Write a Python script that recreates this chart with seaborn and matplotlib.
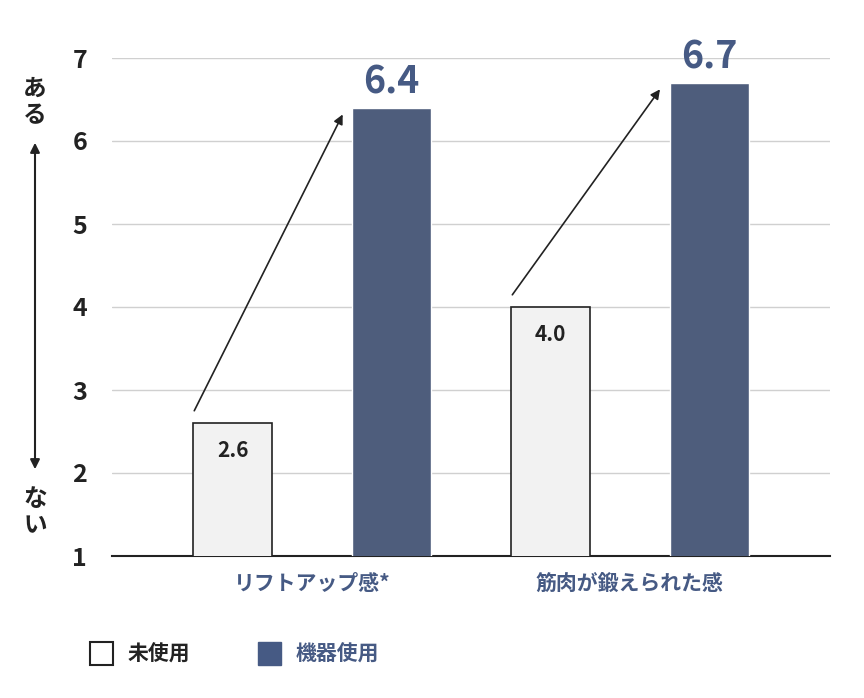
import matplotlib
matplotlib.use('Agg')
import matplotlib.pyplot as plt
import seaborn as sns
import pandas as pd
from matplotlib.patches import Rectangle

categories = ['リフトアップ感*', '筋肉が鍛えられた感']
groups = ['未使用', '機器使用']
before = [2.6, 4.0]
after = [6.4, 6.7]

blue = '#465a84'
light = '#f2f2f2'
dark = '#222222'

df = pd.DataFrame({
    'cat': categories * 2,
    'grp': [groups[0]] * 2 + [groups[1]] * 2,
    'val': before + after,
})

sns.set_theme(style='white')
plt.rcParams['font.family'] = ['Noto Sans CJK JP', 'DejaVu Sans']

fig = plt.figure(figsize=(8.64, 6.98), dpi=100)
ax = fig.add_axes([112 / 864, 1 - 556 / 698, 718 / 864, 498 / 698])

sns.barplot(data=df, x='cat', y='val', hue='grp', palette=[light, blue],
            width=1.0, gap=0.5, legend=False, ax=ax, zorder=3)
for p in ax.patches[:2]:
    p.set_edgecolor(dark)
    p.set_linewidth(1.2)

ax.set_ylim(1, 7)
ax.set_xlim(-0.63, 1.63)
ax.set_yticks(range(1, 8))
ax.yaxis.grid(True, color='#d0d0d0', linewidth=1, zorder=0)
for s in ['top', 'right', 'left']:
    ax.spines[s].set_visible(False)
ax.spines['bottom'].set_color(dark)
ax.spines['bottom'].set_linewidth(1.5)
ax.set_xlabel('')
ax.set_ylabel('')
ax.tick_params(axis='y', length=0, labelsize=18, labelcolor=dark, pad=18)
ax.tick_params(axis='x', length=0, labelsize=15, labelcolor=blue, pad=12)
for t in ax.get_yticklabels():
    t.set_fontweight('bold')
for t in ax.get_xticklabels():
    t.set_fontweight('bold')

for i, (b, a) in enumerate(zip(before, after)):
    ax.text(i - 0.25, b - 0.2, f'{b:.1f}', ha='center', va='top',
            fontsize=15, fontweight='bold', color=dark)
    ax.text(i + 0.25, a + 0.08, f'{a:.1f}', ha='center', va='bottom',
            fontsize=27, fontweight='bold', color=blue)
    ax.annotate('', xy=(i + 0.1, a - 0.05), xytext=(i - 0.375, b + 0.12),
                arrowprops=dict(arrowstyle='-|>', color=dark, lw=1.2,
                                mutation_scale=14))

# vertical axis label
fig.text(35 / 864, 1 - 102 / 698, 'あ\nる', ha='center', va='center',
         fontsize=17, fontweight='bold', color=dark, linespacing=1.1)
fig.text(35 / 864, 1 - 512 / 698, 'な\nい', ha='center', va='center',
         fontsize=17, fontweight='bold', color=dark, linespacing=1.1)
fig.add_artist(matplotlib.patches.FancyArrowPatch(
    (35 / 864, 1 - 140 / 698), (35 / 864, 1 - 472 / 698),
    transform=fig.transFigure, arrowstyle='<|-|>', color=dark, lw=1.5,
    mutation_scale=14))

# legend
fig.add_artist(Rectangle((90 / 864, 1 - 665 / 698), 23 / 864, 23 / 698,
                         transform=fig.transFigure, facecolor='white',
                         edgecolor=dark, lw=1.5))
fig.text(128 / 864, 1 - 654 / 698, groups[0], va='center', fontsize=15,
         fontweight='bold', color=dark)
fig.add_artist(Rectangle((258 / 864, 1 - 665 / 698), 23 / 864, 23 / 698,
                         transform=fig.transFigure, facecolor=blue,
                         edgecolor=blue))
fig.text(296 / 864, 1 - 654 / 698, groups[1], va='center', fontsize=15,
         fontweight='bold', color=blue)

fig.savefig('out.png', dpi=100)
